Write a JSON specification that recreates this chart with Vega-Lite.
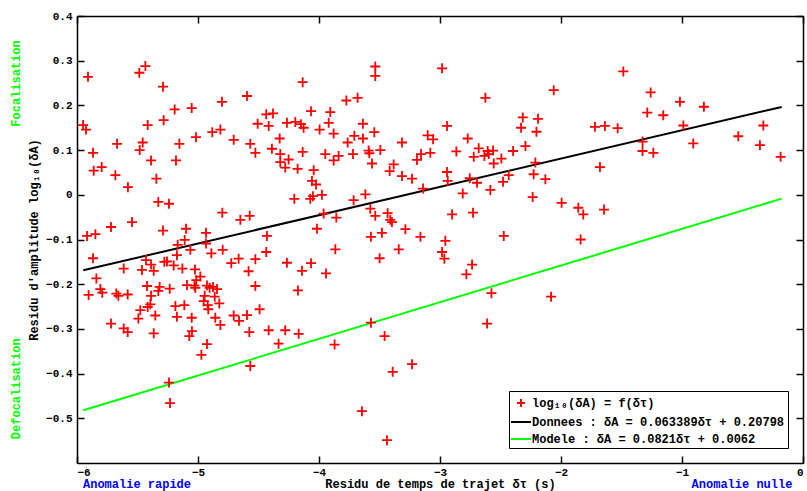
{
 "$schema": "https://vega.github.io/schema/vega-lite/v6.json",
 "width": 726, "height": 447,
 "autosize": {"type": "none"},
 "padding": {"left": 77, "top": 16, "right": 4, "bottom": 28},
 "background": "white",
 "config": {
  "view": {"stroke": null},
  "font": "Liberation Mono",
  "axis": {"labelFont": "Liberation Mono", "titleFont": "Liberation Mono", "labelFontSize": 11, "titleFontSize": 12, "labelFontWeight": "bold", "titleFontWeight": "bold", "labelColor": "black", "titleColor": "black", "domainColor": "black", "tickColor": "black", "domainWidth": 1.5, "tickWidth": 1.5, "tickSize": -7, "grid": false},
  "legend": {"labelFont": "Liberation Mono", "labelFontSize": 12, "labelFontWeight": "bold", "labelColor": "black"}
 },
 "datasets": {
  "lines": [
   {"x": -5.948, "y": -0.169, "s": "b"}, {"x": -0.176, "y": 0.1966, "s": "b"},
   {"x": -5.948, "y": -0.482, "s": "c"}, {"x": -0.176, "y": -0.0086, "s": "c"}
  ],
  "pts": [
   {"x":-5.909,"y":0.264,"s":"a"},{"x":-5.485,"y":0.273,"s":"a"},{"x":-5.435,"y":0.288,"s":"a"},{"x":-5.289,"y":0.242,"s":"a"},{"x":-5.193,"y":0.191,"s":"a"},{"x":-5.052,"y":0.194,"s":"a"},{"x":-4.802,"y":0.208,"s":"a"},{"x":-5.950,"y":0.156,"s":"a"},{"x":-5.926,"y":0.146,"s":"a"},{"x":-5.416,"y":0.156,"s":"a"},{"x":-5.284,"y":0.167,"s":"a"},{"x":-5.868,"y":0.094,"s":"a"},{"x":-5.669,"y":0.114,"s":"a"},{"x":-5.457,"y":0.117,"s":"a"},{"x":-5.482,"y":0.100,"s":"a"},{"x":-5.154,"y":0.114,"s":"a"},{"x":-5.017,"y":0.129,"s":"a"},{"x":-4.882,"y":0.140,"s":"a"},{"x":-4.815,"y":0.146,"s":"a"},{"x":-4.705,"y":0.123,"s":"a"},{"x":-5.388,"y":0.077,"s":"a"},{"x":-5.182,"y":0.077,"s":"a"},{"x":-5.862,"y":0.054,"s":"a"},{"x":-5.796,"y":0.062,"s":"a"},{"x":-5.683,"y":0.044,"s":"a"},{"x":-5.344,"y":0.036,"s":"a"},{"x":-5.579,"y":0.017,"s":"a"},{"x":-5.328,"y":-0.016,"s":"a"},{"x":-5.240,"y":-0.020,"s":"a"},{"x":-4.799,"y":-0.040,"s":"a"},{"x":-5.545,"y":-0.061,"s":"a"},{"x":-5.719,"y":-0.072,"s":"a"},{"x":-5.917,"y":-0.092,"s":"a"},{"x":-5.848,"y":-0.088,"s":"a"},{"x":-5.289,"y":-0.080,"s":"a"},{"x":-5.099,"y":-0.076,"s":"a"},{"x":-4.934,"y":-0.085,"s":"a"},{"x":-5.110,"y":-0.101,"s":"a"},{"x":-5.168,"y":-0.112,"s":"a"},{"x":-4.934,"y":-0.109,"s":"a"},
   {"x":-5.868,"y":-0.142,"s":"a"},{"x":-5.614,"y":-0.165,"s":"a"},{"x":-5.463,"y":-0.168,"s":"a"},{"x":-5.430,"y":-0.146,"s":"a"},{"x":-5.388,"y":-0.156,"s":"a"},{"x":-5.366,"y":-0.170,"s":"a"},{"x":-5.278,"y":-0.150,"s":"a"},{"x":-5.256,"y":-0.149,"s":"a"},{"x":-5.201,"y":-0.158,"s":"a"},{"x":-5.174,"y":-0.135,"s":"a"},{"x":-5.129,"y":-0.165,"s":"a"},{"x":-5.063,"y":-0.123,"s":"a"},{"x":-5.025,"y":-0.167,"s":"a"},{"x":-4.890,"y":-0.131,"s":"a"},{"x":-4.796,"y":-0.123,"s":"a"},{"x":-4.725,"y":-0.153,"s":"a"},{"x":-5.840,"y":-0.187,"s":"a"},{"x":-5.904,"y":-0.224,"s":"a"},{"x":-5.807,"y":-0.211,"s":"a"},{"x":-5.791,"y":-0.219,"s":"a"},{"x":-5.675,"y":-0.221,"s":"a"},{"x":-5.658,"y":-0.226,"s":"a"},{"x":-5.581,"y":-0.223,"s":"a"},{"x":-5.421,"y":-0.204,"s":"a"},{"x":-5.388,"y":-0.226,"s":"a"},{"x":-5.317,"y":-0.206,"s":"a"},{"x":-5.328,"y":-0.215,"s":"a"},{"x":-5.234,"y":-0.210,"s":"a"},{"x":-5.091,"y":-0.202,"s":"a"},{"x":-5.030,"y":-0.203,"s":"a"},{"x":-5.014,"y":-0.191,"s":"a"},{"x":-4.981,"y":-0.183,"s":"a"},{"x":-5.022,"y":-0.208,"s":"a"},{"x":-4.926,"y":-0.203,"s":"a"},{"x":-4.904,"y":-0.208,"s":"a"},{"x":-4.876,"y":-0.206,"s":"a"},{"x":-4.843,"y":-0.211,"s":"a"},{"x":-4.945,"y":-0.226,"s":"a"},{"x":-4.862,"y":-0.228,"s":"a"},{"x":-4.953,"y":-0.238,"s":"a"},{"x":-4.920,"y":-0.247,"s":"a"},{"x":-4.824,"y":-0.243,"s":"a"},{"x":-5.477,"y":-0.258,"s":"a"},{"x":-5.416,"y":-0.251,"s":"a"},{"x":-5.394,"y":-0.245,"s":"a"},{"x":-5.187,"y":-0.249,"s":"a"},{"x":-5.113,"y":-0.247,"s":"a"},{"x":-4.915,"y":-0.256,"s":"a"},{"x":-5.493,"y":-0.277,"s":"a"},{"x":-5.353,"y":-0.270,"s":"a"},{"x":-5.174,"y":-0.273,"s":"a"},{"x":-5.052,"y":-0.275,"s":"a"},{"x":-4.857,"y":-0.275,"s":"a"},{"x":-4.815,"y":-0.291,"s":"a"},{"x":-4.705,"y":-0.270,"s":"a"},{"x":-5.719,"y":-0.288,"s":"a"},{"x":-5.614,"y":-0.299,"s":"a"},{"x":-5.581,"y":-0.307,"s":"a"},{"x":-5.366,"y":-0.310,"s":"a"},{"x":-5.072,"y":-0.316,"s":"a"},{"x":-5.050,"y":-0.305,"s":"a"},{"x":-4.926,"y":-0.334,"s":"a"},{"x":-4.972,"y":-0.358,"s":"a"},{"x":-5.240,"y":-0.420,"s":"a"},{"x":-5.231,"y":-0.466,"s":"a"},
   {"x":-3.535,"y":0.287,"s":"a"},{"x":-3.535,"y":0.266,"s":"a"},{"x":-4.135,"y":0.252,"s":"a"},{"x":-4.595,"y":0.221,"s":"a"},{"x":-3.774,"y":0.211,"s":"a"},{"x":-3.681,"y":0.217,"s":"a"},{"x":-4.436,"y":0.180,"s":"a"},{"x":-4.380,"y":0.182,"s":"a"},{"x":-4.066,"y":0.187,"s":"a"},{"x":-3.907,"y":0.185,"s":"a"},{"x":-4.507,"y":0.159,"s":"a"},{"x":-4.416,"y":0.154,"s":"a"},{"x":-4.265,"y":0.161,"s":"a"},{"x":-4.196,"y":0.163,"s":"a"},{"x":-4.149,"y":0.158,"s":"a"},{"x":-4.127,"y":0.150,"s":"a"},{"x":-3.995,"y":0.146,"s":"a"},{"x":-3.920,"y":0.161,"s":"a"},{"x":-3.879,"y":0.137,"s":"a"},{"x":-3.637,"y":0.159,"s":"a"},{"x":-3.543,"y":0.140,"s":"a"},{"x":-4.568,"y":0.114,"s":"a"},{"x":-4.526,"y":0.094,"s":"a"},{"x":-4.325,"y":0.126,"s":"a"},{"x":-4.389,"y":0.103,"s":"a"},{"x":-4.320,"y":0.091,"s":"a"},{"x":-4.320,"y":0.073,"s":"a"},{"x":-4.251,"y":0.079,"s":"a"},{"x":-4.279,"y":0.061,"s":"a"},{"x":-4.135,"y":0.096,"s":"a"},{"x":-4.177,"y":0.058,"s":"a"},{"x":-4.044,"y":0.055,"s":"a"},{"x":-3.948,"y":0.091,"s":"a"},{"x":-3.879,"y":0.077,"s":"a"},{"x":-3.838,"y":0.087,"s":"a"},{"x":-3.763,"y":0.117,"s":"a"},{"x":-3.708,"y":0.132,"s":"a"},{"x":-3.637,"y":0.126,"s":"a"},{"x":-3.719,"y":0.091,"s":"a"},{"x":-3.590,"y":0.099,"s":"a"},{"x":-3.584,"y":0.093,"s":"a"},{"x":-3.493,"y":0.100,"s":"a"},{"x":-3.562,"y":0.070,"s":"a"},{"x":-3.383,"y":0.068,"s":"a"},{"x":-3.416,"y":0.053,"s":"a"},{"x":-4.058,"y":0.031,"s":"a"},{"x":-4.025,"y":0.023,"s":"a"},{"x":-4.204,"y":-0.009,"s":"a"},{"x":-4.072,"y":-0.009,"s":"a"},{"x":-4.050,"y":-0.003,"s":"a"},{"x":-3.976,"y":0.000,"s":"a"},{"x":-3.714,"y":-0.012,"s":"a"},{"x":-3.617,"y":0.001,"s":"a"},{"x":-4.650,"y":-0.056,"s":"a"},{"x":-4.573,"y":-0.047,"s":"a"},{"x":-3.962,"y":-0.042,"s":"a"},{"x":-3.857,"y":-0.051,"s":"a"},{"x":-3.576,"y":-0.031,"s":"a"},{"x":-3.535,"y":-0.047,"s":"a"},{"x":-3.433,"y":-0.041,"s":"a"},{"x":-3.411,"y":-0.056,"s":"a"},{"x":-3.397,"y":-0.061,"s":"a"},{"x":-4.430,"y":-0.092,"s":"a"},{"x":-4.017,"y":-0.076,"s":"a"},{"x":-3.571,"y":-0.094,"s":"a"},{"x":-3.480,"y":-0.085,"s":"a"},
   {"x":-4.664,"y":-0.143,"s":"a"},{"x":-4.526,"y":-0.144,"s":"a"},{"x":-4.436,"y":-0.128,"s":"a"},{"x":-4.265,"y":-0.152,"s":"a"},{"x":-4.066,"y":-0.153,"s":"a"},{"x":-4.141,"y":-0.170,"s":"a"},{"x":-3.942,"y":-0.176,"s":"a"},{"x":-3.865,"y":-0.122,"s":"a"},{"x":-3.499,"y":-0.142,"s":"a"},{"x":-4.582,"y":-0.171,"s":"a"},{"x":-4.526,"y":-0.204,"s":"a"},{"x":-4.174,"y":-0.214,"s":"a"},{"x":-4.491,"y":-0.256,"s":"a"},{"x":-4.595,"y":-0.269,"s":"a"},{"x":-4.661,"y":-0.282,"s":"a"},{"x":-4.576,"y":-0.307,"s":"a"},{"x":-4.416,"y":-0.303,"s":"a"},{"x":-4.279,"y":-0.303,"s":"a"},{"x":-4.168,"y":-0.311,"s":"a"},{"x":-4.334,"y":-0.333,"s":"a"},{"x":-3.871,"y":-0.335,"s":"a"},{"x":-4.568,"y":-0.383,"s":"a"},{"x":-3.571,"y":-0.286,"s":"a"},{"x":-3.458,"y":-0.316,"s":"a"},{"x":-3.391,"y":-0.396,"s":"a"},{"x":-3.645,"y":-0.484,"s":"a"},{"x":-3.438,"y":-0.549,"s":"a"},
   {"x":-2.983,"y":0.283,"s":"a"},{"x":-2.625,"y":0.217,"s":"a"},{"x":-2.060,"y":0.234,"s":"a"},{"x":-2.942,"y":0.154,"s":"a"},{"x":-2.316,"y":0.173,"s":"a"},{"x":-2.190,"y":0.170,"s":"a"},{"x":-2.330,"y":0.150,"s":"a"},{"x":-2.203,"y":0.141,"s":"a"},{"x":-3.314,"y":0.117,"s":"a"},{"x":-3.102,"y":0.133,"s":"a"},{"x":-3.057,"y":0.124,"s":"a"},{"x":-2.771,"y":0.126,"s":"a"},{"x":-2.680,"y":0.104,"s":"a"},{"x":-3.080,"y":0.094,"s":"a"},{"x":-3.157,"y":0.091,"s":"a"},{"x":-3.190,"y":0.078,"s":"a"},{"x":-2.865,"y":0.097,"s":"a"},{"x":-2.721,"y":0.085,"s":"a"},{"x":-2.633,"y":0.087,"s":"a"},{"x":-2.606,"y":0.098,"s":"a"},{"x":-2.562,"y":0.099,"s":"a"},{"x":-2.597,"y":0.091,"s":"a"},{"x":-2.556,"y":0.070,"s":"a"},{"x":-2.493,"y":0.081,"s":"a"},{"x":-2.396,"y":0.098,"s":"a"},{"x":-2.294,"y":0.109,"s":"a"},{"x":-2.212,"y":0.072,"s":"a"},{"x":-3.314,"y":0.042,"s":"a"},{"x":-3.231,"y":0.036,"s":"a"},{"x":-2.942,"y":0.051,"s":"a"},{"x":-2.936,"y":0.031,"s":"a"},{"x":-3.140,"y":0.014,"s":"a"},{"x":-2.754,"y":0.037,"s":"a"},{"x":-2.694,"y":0.027,"s":"a"},{"x":-2.812,"y":0.003,"s":"a"},{"x":-2.584,"y":0.011,"s":"a"},{"x":-2.479,"y":0.029,"s":"a"},{"x":-2.432,"y":0.044,"s":"a"},{"x":-2.226,"y":0.046,"s":"a"},{"x":-2.129,"y":0.035,"s":"a"},{"x":-2.234,"y":-0.005,"s":"a"},{"x":-2.900,"y":-0.044,"s":"a"},{"x":-2.727,"y":-0.040,"s":"a"},{"x":-3.286,"y":-0.077,"s":"a"},{"x":-3.162,"y":-0.094,"s":"a"},{"x":-2.956,"y":-0.103,"s":"a"},{"x":-2.473,"y":-0.092,"s":"a"},
   {"x":-3.341,"y":-0.122,"s":"a"},{"x":-2.983,"y":-0.128,"s":"a"},{"x":-2.964,"y":-0.143,"s":"a"},{"x":-2.735,"y":-0.156,"s":"a"},{"x":-2.782,"y":-0.178,"s":"a"},{"x":-2.575,"y":-0.220,"s":"a"},{"x":-2.082,"y":-0.228,"s":"a"},{"x":-2.611,"y":-0.288,"s":"a"},{"x":-3.231,"y":-0.379,"s":"a"},
   {"x":-1.485,"y":0.276,"s":"a"},{"x":-1.259,"y":0.229,"s":"a"},{"x":-1.017,"y":0.208,"s":"a"},{"x":-0.819,"y":0.197,"s":"a"},{"x":-1.287,"y":0.184,"s":"a"},{"x":-1.155,"y":0.178,"s":"a"},{"x":-1.719,"y":0.152,"s":"a"},{"x":-1.637,"y":0.154,"s":"a"},{"x":-1.532,"y":0.149,"s":"a"},{"x":-0.989,"y":0.155,"s":"a"},{"x":-0.328,"y":0.155,"s":"a"},{"x":-0.535,"y":0.131,"s":"a"},{"x":-1.326,"y":0.119,"s":"a"},{"x":-1.326,"y":0.098,"s":"a"},{"x":-1.237,"y":0.094,"s":"a"},{"x":-0.907,"y":0.115,"s":"a"},{"x":-0.356,"y":0.111,"s":"a"},{"x":-0.185,"y":0.085,"s":"a"},{"x":-1.678,"y":0.062,"s":"a"},{"x":-1.995,"y":-0.018,"s":"a"},{"x":-1.857,"y":-0.029,"s":"a"},{"x":-1.816,"y":-0.044,"s":"a"},{"x":-1.645,"y":-0.033,"s":"a"},{"x":-1.838,"y":-0.100,"s":"a"}
  ],
  "green": [
   {"x": -6.504, "y": 0.249, "t": "Focalisation"},
   {"x": -6.504, "y": -0.434, "t": "Defocalisation"}
  ],
  "blue": [
   {"x": -5.504, "y": -0.647, "t": "Anomalie rapide"},
   {"x": -0.504, "y": -0.647, "t": "Anomalie nulle"}
  ]
 },
 "layer": [
  {
   "data": {"name": "lines"},
   "mark": {"type": "line", "strokeWidth": 2},
   "encoding": {
    "x": {"field": "x", "type": "quantitative", "scale": {"domain": [-6, 0], "nice": false, "zero": false},
          "axis": {"values": [-6, -5, -4, -3, -2, -1, 0], "format": "d", "title": "Residu de temps de trajet δτ (s)", "labelPadding": 10, "titlePadding": 1}},
    "y": {"field": "y", "type": "quantitative", "scale": {"domain": [-0.6, 0.4], "nice": false, "zero": false},
          "axis": {"values": [-0.5, -0.4, -0.3, -0.2, -0.1, 0, 0.1, 0.2, 0.3, 0.4], "format": ".1~f", "title": "Residu d'amplitude log₁₀(δA)", "labelPadding": 12, "titlePadding": 5}},
    "color": {"field": "s", "type": "nominal", "scale": {"domain": ["a", "b", "c"], "range": ["#ff0000", "#000000", "#00ff00"]},
              "legend": {"title": null, "orient": "bottom-right", "offset": 15, "strokeColor": "black", "fillColor": "white", "padding": 3, "symbolSize": 256, "symbolStrokeWidth": 2, "labelLimit": 400, "labelOffset": 2, "rowPadding": 2,
                         "labelExpr": "datum.label == 'a' ? 'log₁₀(δA) = f(δτ)' : datum.label == 'b' ? 'Donnees : δA = 0.063389δτ + 0.20798' : 'Modele : δA = 0.0821δτ + 0.0062'"}}
   }
  },
  {
   "data": {"name": "pts"},
   "mark": {"type": "point", "filled": false, "strokeWidth": 1.8, "size": 400, "opacity": 1},
   "encoding": {
    "x": {"field": "x", "type": "quantitative", "scale": {"domain": [-6, 0], "nice": false, "zero": false},
          "axis": {"orient": "top", "values": [-6, -5, -4, -3, -2, -1, 0], "labels": false, "title": null}},
    "y": {"field": "y", "type": "quantitative", "scale": {"domain": [-0.6, 0.4], "nice": false, "zero": false},
          "axis": {"orient": "right", "values": [-0.5, -0.4, -0.3, -0.2, -0.1, 0, 0.1, 0.2, 0.3, 0.4], "labels": false, "title": null}},
    "color": {"field": "s", "type": "nominal", "scale": {"domain": ["a", "b", "c"], "range": ["#ff0000", "#000000", "#00ff00"]},
              "legend": {"title": null, "orient": "bottom-right", "offset": 15, "strokeColor": "black", "fillColor": "white", "padding": 3, "symbolSize": 256, "symbolStrokeWidth": 2, "labelLimit": 400, "labelOffset": 2, "rowPadding": 2,
                         "labelExpr": "datum.label == 'a' ? 'log₁₀(δA) = f(δτ)' : datum.label == 'b' ? 'Donnees : δA = 0.063389δτ + 0.20798' : 'Modele : δA = 0.0821δτ + 0.0062'"}},
    "shape": {"field": "s", "type": "nominal", "scale": {"domain": ["a", "b", "c"], "range": ["M-0.5,0H0.5M0,-0.5V0.5", "M-1.25,0H1.25", "M-1.25,0H1.25"]},
              "legend": {"title": null, "orient": "bottom-right", "offset": 15, "strokeColor": "black", "fillColor": "white", "padding": 3, "symbolSize": 256, "symbolStrokeWidth": 2, "labelLimit": 400, "labelOffset": 2, "rowPadding": 2,
                         "labelExpr": "datum.label == 'a' ? 'log₁₀(δA) = f(δτ)' : datum.label == 'b' ? 'Donnees : δA = 0.063389δτ + 0.20798' : 'Modele : δA = 0.0821δτ + 0.0062'"}}
   }
  },
  {
   "data": {"name": "green"},
   "mark": {"type": "text", "angle": 270, "color": "#00ff00", "font": "Liberation Mono", "fontSize": 12, "fontWeight": "bold", "align": "center", "baseline": "middle"},
   "encoding": {
    "x": {"field": "x", "type": "quantitative", "scale": {"domain": [-6, 0], "nice": false, "zero": false}, "axis": null},
    "y": {"field": "y", "type": "quantitative", "scale": {"domain": [-0.6, 0.4], "nice": false, "zero": false}, "axis": null},
    "text": {"field": "t"}
   }
  },
  {
   "data": {"name": "blue"},
   "mark": {"type": "text", "color": "#0000ff", "font": "Liberation Mono", "fontSize": 12, "fontWeight": "bold", "align": "center", "baseline": "middle"},
   "encoding": {
    "x": {"field": "x", "type": "quantitative", "scale": {"domain": [-6, 0], "nice": false, "zero": false}, "axis": null},
    "y": {"field": "y", "type": "quantitative", "scale": {"domain": [-0.6, 0.4], "nice": false, "zero": false}, "axis": null},
    "text": {"field": "t"}
   }
  }
 ],
 "resolve": {"axis": {"x": "independent", "y": "independent"}}
}
